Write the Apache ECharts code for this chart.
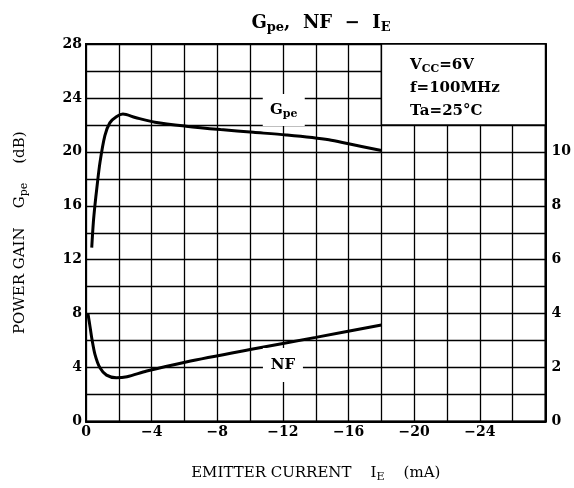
<!DOCTYPE html>
<html><head><meta charset="utf-8">
<script src="https://cdn.jsdelivr.net/npm/echarts@6/dist/echarts.min.js"></script>
<style>html,body{margin:0;padding:0;background:#fff}#c{width:574px;height:488px}</style>
</head><body><div id="c"></div>
<script>
// Data
const ieGpe = [-0.35,-0.45,-0.55,-0.65,-0.85,-1.15,-1.45,-1.85,-2.25,-3.0,-4.2,-6.1,-8.2,-10.2,-12.2,-14.8,-16.0,-18.0];
const gpe   = [12.9,14.8,16.1,17.2,19.2,21.2,22.15,22.6,22.8,22.55,22.2,21.9,21.65,21.45,21.25,20.9,20.6,20.1];
const ieNf  = [-0.12,-0.25,-0.35,-0.55,-0.85,-1.25,-1.85,-2.5,-3.7,-6.1,-10.0,-14.0,-18.0];
const nf    = [4.0,3.5,3.1,2.48,1.99,1.72,1.62,1.66,1.87,2.21,2.67,3.12,3.58];
const xTicks = [0,-4,-8,-12,-16,-20,-24];
const yLeftTicks = [0,4,8,12,16,20,24,28];
const yRightTicks = [0,2,4,6,8,10];

const SERIF = '"DejaVu Serif","Liberation Serif",serif';
const subRich = {
  n:{fontFamily:SERIF,fontSize:15,fontWeight:'bold',color:'#000',lineHeight:23},
  s:{fontFamily:SERIF,fontSize:11,fontWeight:'bold',color:'#000',lineHeight:23,padding:[8,0,0,0]}
};
const nameRich = {
  a:{fontFamily:SERIF,fontSize:15,color:'#000',lineHeight:20},
  b:{fontFamily:SERIF,fontSize:11,color:'#000',lineHeight:20,padding:[8,0,0,0]}
};
const chart = echarts.init(document.getElementById('c'));
const fmt = v => v === 0 ? '0' : '\u2212' + Math.abs(v);
chart.setOption({
  animation:false,
  backgroundColor:'#fff',
  title:{
    text:'{t|G}{ts|pe}{t|,  NF  \u2212  I}{ts|E}',
    left:316, textAlign:'center', top:5,
    textStyle:{rich:{
      t:{fontFamily:SERIF,fontSize:18,fontWeight:'bold',color:'#000',lineHeight:26},
      ts:{fontFamily:SERIF,fontSize:13,fontWeight:'bold',color:'#000',lineHeight:26,padding:[10,0,0,0]}
    }}
  },
  grid:{left:86,right:28,top:44,bottom:64,show:true,borderColor:'#000',borderWidth:2,backgroundColor:'transparent'},
  xAxis:{
    type:'value', min:-28, max:0, interval:2, inverse:true,
    name:'{a|EMITTER CURRENT    I}{b|E}{a|    (mA)}', nameLocation:'middle', nameGap:42,
    nameTextStyle:{rich:nameRich},
    axisLine:{show:true,lineStyle:{color:'#000',width:2}},
    axisTick:{show:false},
    splitLine:{show:true,lineStyle:{color:'#000',width:1.3}},
    axisLabel:{fontFamily:SERIF,fontSize:14,fontWeight:'bold',color:'#000',margin:4,
      formatter:v => xTicks.indexOf(v) >= 0 ? fmt(v) : ''}
  },
  yAxis:[{
    type:'value', min:0, max:28, interval:2, position:'left',
    name:'{a|POWER GAIN    G}{b|pe}{a|    (dB)}', nameLocation:'middle', nameGap:56, nameRotate:90,
    nameTextStyle:{rich:nameRich},
    axisLine:{show:true,lineStyle:{color:'#000',width:2}},
    axisTick:{show:false},
    splitLine:{show:true,lineStyle:{color:'#000',width:1.3}},
    axisLabel:{fontFamily:SERIF,fontSize:14,fontWeight:'bold',color:'#000',margin:4,
      formatter:v => yLeftTicks.indexOf(v) >= 0 ? String(v) : ''}
  },{
    type:'value', min:0, max:14, interval:1, position:'right',
    axisLine:{show:true,lineStyle:{color:'#000',width:2}},
    axisTick:{show:false},
    splitLine:{show:false},
    axisLabel:{fontFamily:SERIF,fontSize:14,fontWeight:'bold',color:'#000',margin:6,
      formatter:v => yRightTicks.indexOf(v) >= 0 ? String(v) : ''}
  }],
  series:[{
    type:'line', yAxisIndex:0, data:ieGpe.map((x,i)=>[x,gpe[i]]),
    showSymbol:false, smooth:0.3, lineStyle:{color:'#000',width:3},
    markArea:{silent:true,
      itemStyle:{color:'#fff',borderColor:'#000',borderWidth:1.5},
      label:{show:false},
      data:[[{coord:[-18,22]},{coord:[-28,28]}]]
    },
    markPoint:{silent:true,
      data:[
        {coord:[-12.05,23.1],symbol:'rect',symbolSize:[42,32],itemStyle:{color:'#fff'},
         label:{show:true,position:'inside',formatter:'{n|G}{s|pe}',rich:subRich}},
        {coord:[-19.75,24.75],symbol:'rect',symbolSize:[1,1],itemStyle:{color:'rgba(0,0,0,0)'},
         label:{show:true,position:'inside',align:'left',verticalAlign:'middle',
           formatter:'{n|V}{s|CC}{n|=6V}\n{n|f=100MHz}\n{n|Ta=25\u00b0C}',rich:subRich}}
      ]
    }
  },{
    type:'line', yAxisIndex:1, data:ieNf.map((x,i)=>[x,nf[i]]),
    showSymbol:false, smooth:0.3, lineStyle:{color:'#000',width:3},
    markPoint:{silent:true,symbol:'rect',symbolSize:[40,34],
      itemStyle:{color:'#fff'},
      label:{show:true,position:'inside',formatter:'{n|NF}',rich:subRich},
      data:[{coord:[-12.0,2.1]}]
    }
  }]
});
</script></body></html>
